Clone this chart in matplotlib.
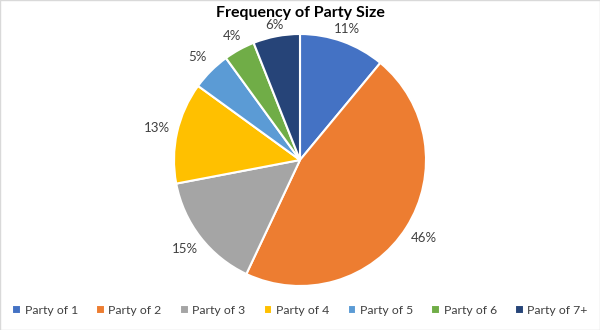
import numpy as np
import matplotlib.pyplot as plt
from matplotlib.patches import Rectangle

categories = ["Party of 1", "Party of 2", "Party of 3", "Party of 4", "Party of 5", "Party of 6", "Party of 7+"]
shares = [11, 46, 15, 13, 5, 4, 6]
colors = ["#4472C4", "#ED7D31", "#A5A5A5", "#FFC000", "#5B9BD5", "#70AD47", "#264478"]

plt.rcParams["font.family"] = ["Lato", "DejaVu Sans"]

fig = plt.figure(figsize=(6, 3.3), dpi=100)
fig.patches.append(Rectangle((0, 0), 1, 1, transform=fig.transFigure, fill=False,
                             edgecolor="#d9d9d9", linewidth=1))

# pie centred at (300, 160) px from top, radius ~126 px
r_px = 126
ax = fig.add_axes([(300 - r_px) / 600, (170 - r_px) / 330, 2 * r_px / 600, 2 * r_px / 330])
wedges, _ = ax.pie(shares, colors=colors, startangle=90, counterclock=False,
                   wedgeprops=dict(edgecolor="white", linewidth=1.5))
ax.set_xlim(-1, 1)
ax.set_ylim(-1, 1)
ax.set_aspect("equal")

# outside-end labels: push further out where the text is wide relative to the direction
for w, v in zip(wedges, shares):
    mid = np.deg2rad((w.theta1 + w.theta2) / 2)
    c, s = np.cos(mid), np.sin(mid)
    dist = (128 + 18 * abs(c) + 6 * abs(s)) / r_px
    ax.text(dist * c, dist * s, f"{v}%", ha="center", va="center", fontsize=9.5, color="#404040")

fig.text(0.5, 1 - 13 / 330, "Frequency of Party Size", ha="center", va="center",
         fontsize=11.5, fontweight="bold", color="#000000")

fig.legend(wedges, categories, loc="center", bbox_to_anchor=(0.5, 20 / 330), ncol=7,
           frameon=False, fontsize=8.8, handlelength=0.7, handleheight=0.7,
           handletextpad=0.3, columnspacing=1.5, labelcolor="#404040")

fig.savefig("out.png", dpi=100)
